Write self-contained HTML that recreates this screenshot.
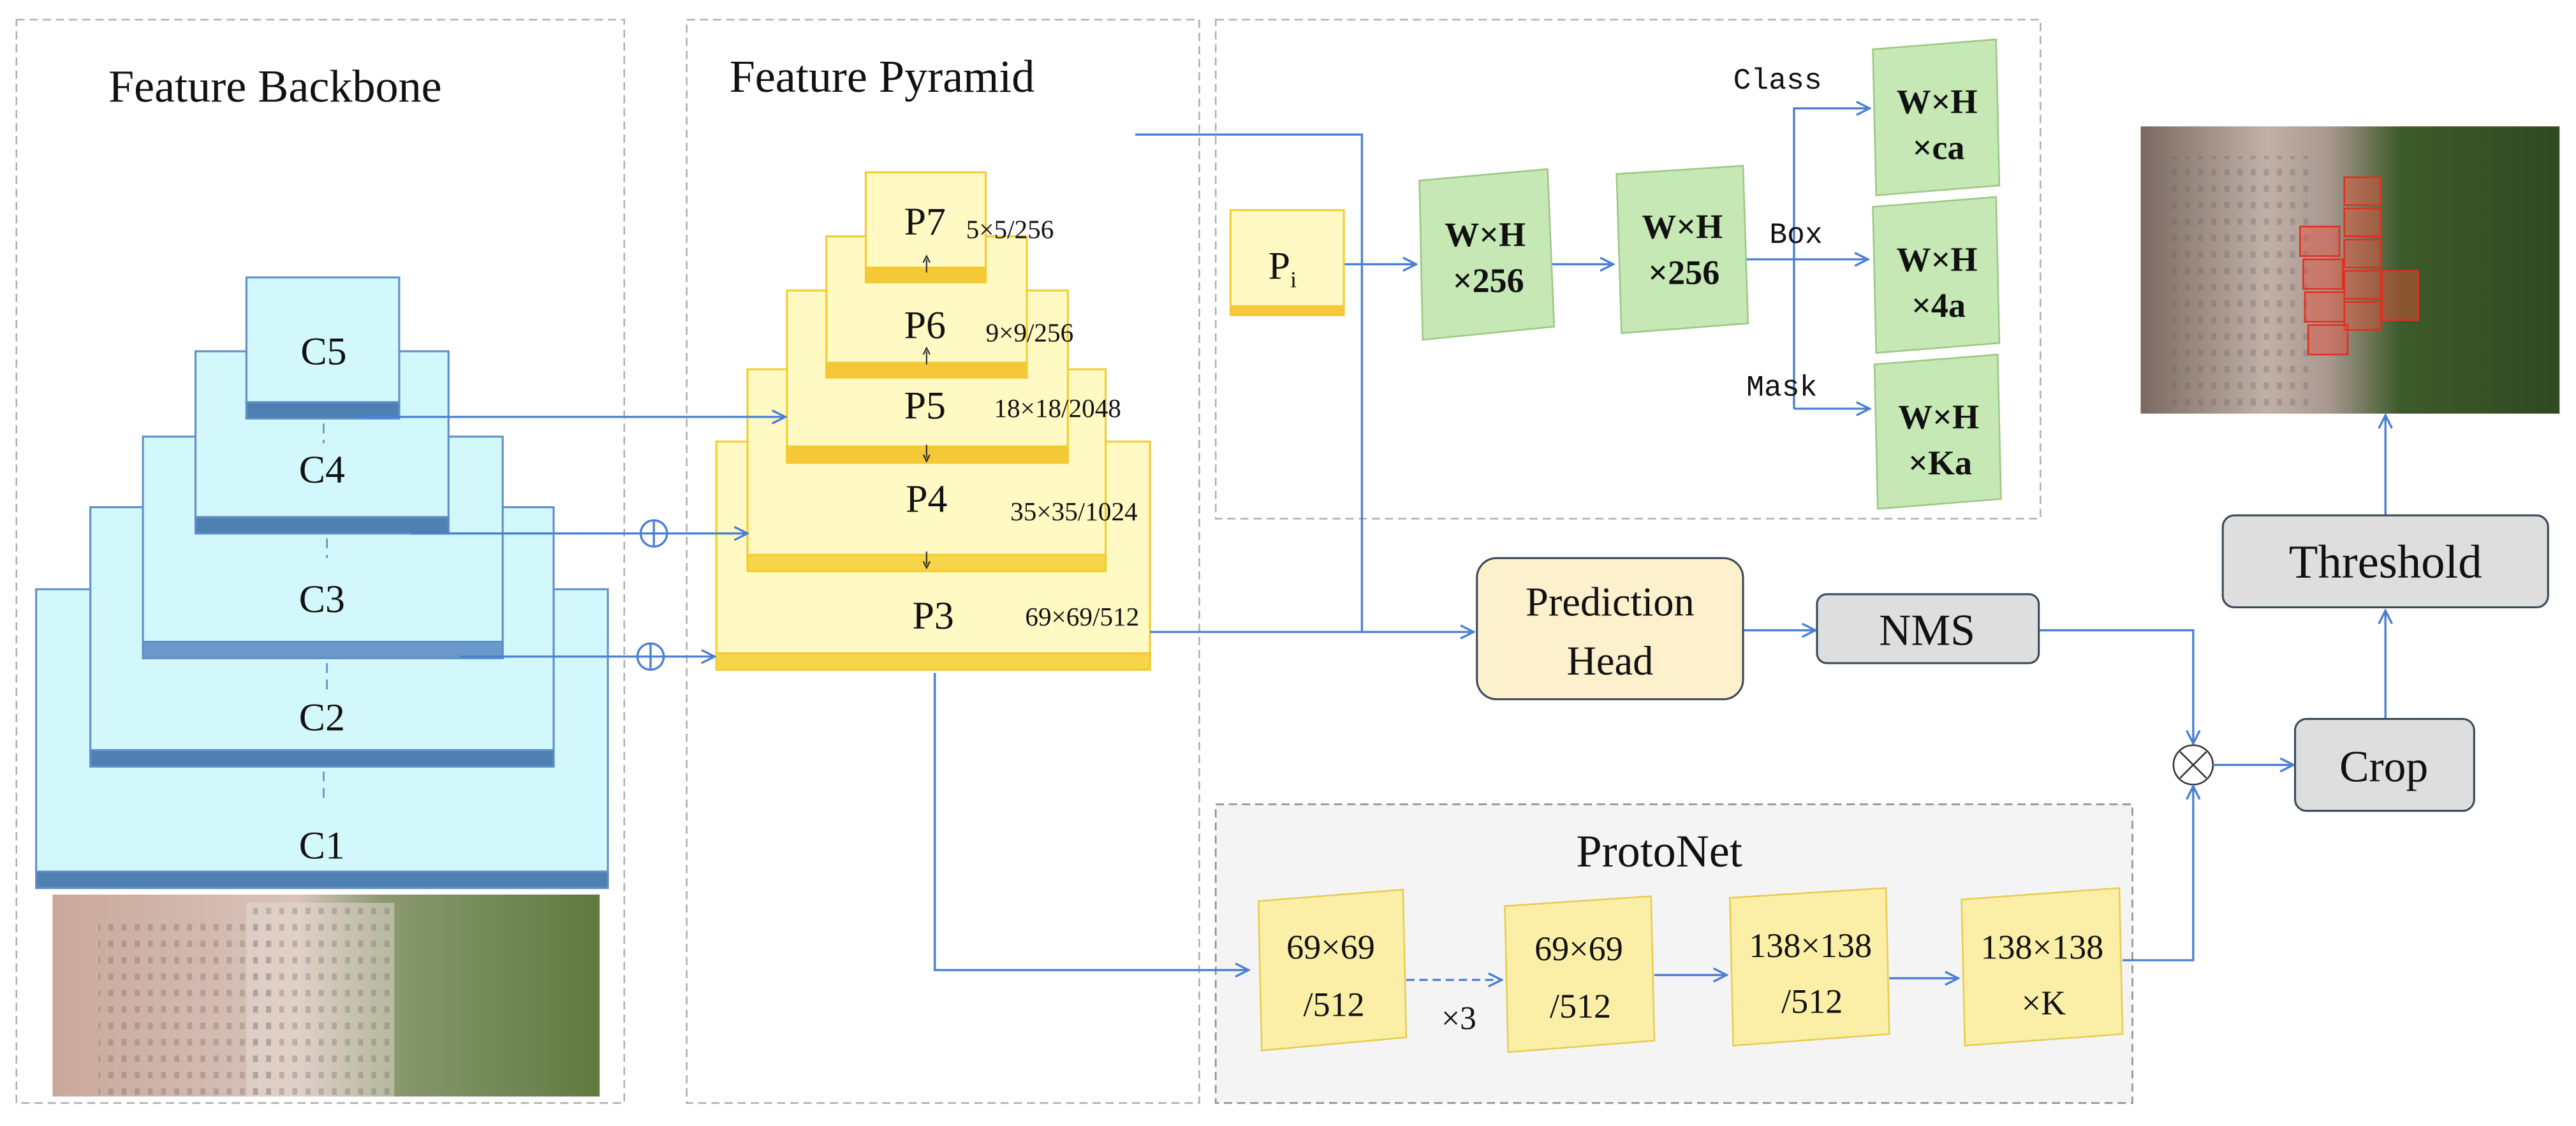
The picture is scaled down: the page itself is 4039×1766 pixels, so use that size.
<!DOCTYPE html>
<html><head><meta charset="utf-8"><style>
html,body{margin:0;padding:0;background:#fff;}
svg{display:block;}
text{font-family:"Liberation Serif",serif;fill:#111;}
.m{font-family:"Liberation Mono",monospace;}
</style></head><body>
<svg width="4039" height="1766" viewBox="0 0 1568 686" preserveAspectRatio="none" xmlns="http://www.w3.org/2000/svg">
<defs>
<marker id="a" markerWidth="10" markerHeight="10" refX="9" refY="5" orient="auto" markerUnits="userSpaceOnUse"><path d="M1,1 L9,5 L1,9" fill="none" stroke="#4a7fd4" stroke-width="1.3"/></marker>
<linearGradient id="ph1" x1="0" x2="1"><stop offset="0" stop-color="#c9a89a"/><stop offset="0.45" stop-color="#d8c4bc"/><stop offset="0.6" stop-color="#8a9a70"/><stop offset="1" stop-color="#5f7a40"/></linearGradient>
<linearGradient id="ph2" x1="0" x2="1"><stop offset="0" stop-color="#7a6a62"/><stop offset="0.3" stop-color="#c0b0a8"/><stop offset="0.45" stop-color="#a89890"/><stop offset="0.62" stop-color="#3d5a2a"/><stop offset="1" stop-color="#2f4a22"/></linearGradient>
<pattern id="win" width="8" height="10" patternUnits="userSpaceOnUse"><rect x="2" y="3" width="3" height="4" fill="#6a6060" opacity="0.3"/></pattern>
</defs>

<g fill="none" stroke="#b0b0b0" stroke-width="1" stroke-dasharray="5,3">
<rect x="10" y="12" width="370" height="660"/>
<rect x="418" y="12" width="312" height="660"/>
<rect x="740" y="12" width="502" height="304"/>
</g>
<rect x="740" y="490" width="558" height="182" fill="#f4f4f4" stroke="#909090" stroke-width="1" stroke-dasharray="5,3"/>

<text x="66" y="62" font-size="28">Feature Backbone</text>
<text x="444" y="56" font-size="28">Feature Pyramid</text>

<g stroke="#5f8fc8" stroke-width="1.2">
<rect x="22" y="359" width="348" height="182" fill="#d2f8fc"/>
<rect x="22" y="531" width="348" height="10" fill="#4f80b2"/>
<rect x="55" y="309" width="282" height="158" fill="#d2f8fc"/>
<rect x="55" y="457" width="282" height="10" fill="#4f80b2"/>
<rect x="87" y="266" width="219" height="135" fill="#d2f8fc"/>
<rect x="87" y="391" width="219" height="10" fill="#6a98c8"/>
<rect x="119" y="214" width="154" height="111" fill="#d2f8fc"/>
<rect x="119" y="315" width="154" height="10" fill="#4f80b2"/>
<rect x="150" y="169" width="93" height="86" fill="#d2f8fc"/>
<rect x="150" y="245" width="93" height="10" fill="#4f80b2"/>
</g>
<g stroke="#5f8fc8" stroke-dasharray="6,4"><line x1="197" y1="258" x2="197" y2="270"/><line x1="199" y1="328" x2="199" y2="340"/><line x1="199" y1="404" x2="199" y2="420"/><line x1="197" y1="470" x2="197" y2="490"/></g>
<g font-size="24" text-anchor="middle">
<text x="197" y="222">C5</text><text x="196" y="294">C4</text><text x="196" y="373">C3</text><text x="196" y="445">C2</text><text x="196" y="523">C1</text>
</g>
<rect x="32" y="545" width="333" height="123" fill="url(#ph1)"/>
<rect x="60" y="560" width="110" height="108" fill="url(#win)"/>
<rect x="150" y="550" width="90" height="118" fill="#e8dcd4" opacity="0.5"/>
<rect x="150" y="550" width="90" height="118" fill="url(#win)"/>

<g stroke="#f2cc30" stroke-width="1.2">
<rect x="436" y="269" width="264" height="139" fill="#fff9c4"/>
<rect x="436" y="398" width="264" height="10" fill="#f8d448"/>
<rect x="455" y="225" width="218" height="123" fill="#fff9c4"/>
<rect x="455" y="338" width="218" height="10" fill="#f8d448"/>
<rect x="479" y="177" width="171" height="105" fill="#fff9c4"/>
<rect x="479" y="272" width="171" height="10" fill="#f5c838"/>
<rect x="503" y="144" width="122" height="86" fill="#fff9c4"/>
<rect x="503" y="221" width="122" height="9" fill="#f5c838"/>
<rect x="527" y="105" width="73" height="67" fill="#fff9c4"/>
<rect x="527" y="163" width="73" height="9" fill="#f5c838"/>
</g>
<g font-size="24" text-anchor="middle">
<text x="563" y="143">P7</text><text x="563" y="206">P6</text><text x="563" y="255">P5</text><text x="564" y="312">P4</text><text x="568" y="383">P3</text>
</g>
<g font-size="16">
<text x="588" y="145">5×5/256</text><text x="600" y="208">9×9/256</text><text x="605" y="254">18×18/2048</text><text x="615" y="317">35×35/1024</text><text x="624" y="381">69×69/512</text>
</g>
<g stroke="#222" stroke-width="0.8">
<line x1="564" y1="158" x2="564" y2="166"/><path d="M562,160 L564,156 L566,160" fill="none"/>
<line x1="564" y1="214" x2="564" y2="222"/><path d="M562,216 L564,212 L566,216" fill="none"/>
<line x1="564" y1="271" x2="564" y2="279"/><path d="M562,277 L564,281 L566,277" fill="none"/>
<line x1="564" y1="336" x2="564" y2="344"/><path d="M562,342 L564,346 L566,342" fill="none"/>
</g>

<g fill="none" stroke="#4a7fd4" stroke-width="1.3">
<line x1="220" y1="254" x2="478" y2="254" marker-end="url(#a)"/>
<line x1="250" y1="325" x2="390" y2="325"/>
<line x1="406" y1="325" x2="455" y2="325" marker-end="url(#a)"/>
<circle cx="398" cy="325" r="8"/><line x1="390" y1="325" x2="406" y2="325"/><line x1="398" y1="317" x2="398" y2="333"/>
<line x1="280" y1="400" x2="388" y2="400"/>
<line x1="404" y1="400" x2="435" y2="400" marker-end="url(#a)"/>
<circle cx="396" cy="400" r="8"/><line x1="388" y1="400" x2="404" y2="400"/><line x1="396" y1="392" x2="396" y2="408"/>
<polyline points="691,82 829,82 829,385"/>
<line x1="700" y1="385" x2="897" y2="385" marker-end="url(#a)"/>
<polyline points="569,410 569,591 760,591" marker-end="url(#a)"/>
<line x1="818" y1="161" x2="862" y2="161" marker-end="url(#a)"/>
<line x1="944" y1="161" x2="982" y2="161" marker-end="url(#a)"/>
<line x1="1063" y1="158" x2="1137" y2="158" marker-end="url(#a)"/>
<polyline points="1092,249 1092,66 1138,66" marker-end="url(#a)"/>
<line x1="1092" y1="249" x2="1138" y2="249" marker-end="url(#a)"/>
<line x1="1061" y1="384" x2="1105" y2="384" marker-end="url(#a)"/>
<polyline points="1241,384 1335,384 1335,453" marker-end="url(#a)"/>
<circle cx="1335" cy="466" r="12" stroke="#333" stroke-width="1"/>
<line x1="1327" y1="458" x2="1343" y2="474" stroke="#333" stroke-width="1"/><line x1="1343" y1="458" x2="1327" y2="474" stroke="#333" stroke-width="1"/>
<line x1="1347" y1="466" x2="1396" y2="466" marker-end="url(#a)"/>
<line x1="1452" y1="438" x2="1452" y2="372" marker-end="url(#a)"/>
<line x1="1452" y1="314" x2="1452" y2="253" marker-end="url(#a)"/>
<polyline points="1292,585 1335,585 1335,479" marker-end="url(#a)"/>
<line x1="856" y1="597" x2="914" y2="597" stroke-dasharray="5,3" marker-end="url(#a)"/>
<line x1="1007" y1="594" x2="1051" y2="594" marker-end="url(#a)"/>
<line x1="1150" y1="596" x2="1192" y2="596" marker-end="url(#a)"/>
</g>

<rect x="749" y="128" width="69" height="64" fill="#fff9c4" stroke="#f2cc30" stroke-width="1.2"/>
<rect x="749" y="186" width="69" height="6" fill="#f5c838"/>
<text x="772" y="170" font-size="24">P<tspan font-size="14" dy="5">i</tspan></text>

<g fill="#c6e8b4" stroke="#9cc884" stroke-width="1">
<polygon points="864,110 942,103 946,199 866,207"/>
<polygon points="984,106 1061,101 1064,197 987,203"/>
<polygon points="1140,30 1215,24 1217,113 1142,119"/>
<polygon points="1140,126 1215,120 1217,209 1142,215"/>
<polygon points="1141,222 1216,216 1218,304 1143,310"/>
</g>
<g font-size="21" font-weight="bold" text-anchor="middle">
<text x="904" y="150">W×H</text><text x="906" y="178">×256</text>
<text x="1024" y="145">W×H</text><text x="1025" y="173">×256</text>
<text x="1179" y="69">W×H</text><text x="1180" y="97">×ca</text>
<text x="1179" y="165">W×H</text><text x="1180" y="193">×4a</text>
<text x="1180" y="261">W×H</text><text x="1181" y="289">×Ka</text>
</g>
<g font-size="18"><text class="m" x="1055" y="54">Class</text><text class="m" x="1077" y="148">Box</text><text class="m" x="1063" y="241">Mask</text></g>

<rect x="899" y="340" width="162" height="86" rx="12" fill="#fdf0cc" stroke="#3a4a5a" stroke-width="1.2"/>
<text x="980" y="375" font-size="25" text-anchor="middle">Prediction</text>
<text x="980" y="411" font-size="25" text-anchor="middle">Head</text>
<rect x="1106" y="362" width="135" height="42" rx="6" fill="#dedede" stroke="#3a4a5a" stroke-width="1.2"/>
<text x="1173" y="393" font-size="27" text-anchor="middle">NMS</text>
<rect x="1397" y="438" width="109" height="56" rx="7" fill="#dedede" stroke="#3a4a5a" stroke-width="1.2"/>
<text x="1451" y="476" font-size="27" text-anchor="middle">Crop</text>
<rect x="1353" y="314" width="198" height="56" rx="7" fill="#dedede" stroke="#3a4a5a" stroke-width="1.2"/>
<text x="1452" y="352" font-size="29" text-anchor="middle">Threshold</text>

<rect x="1303" y="77" width="255" height="175" fill="url(#ph2)"/>
<rect x="1320" y="95" width="90" height="157" fill="url(#win)"/>
<g fill="#e8503a" fill-opacity="0.45" stroke="#e03020" stroke-width="1">
<rect x="1427" y="108" width="22" height="17"/><rect x="1427" y="127" width="22" height="17"/><rect x="1427" y="146" width="22" height="17"/><rect x="1427" y="165" width="22" height="17"/><rect x="1427" y="184" width="22" height="17"/>
<rect x="1400" y="138" width="24" height="18"/><rect x="1402" y="158" width="24" height="18"/><rect x="1403" y="178" width="24" height="18"/><rect x="1405" y="198" width="24" height="18"/>
<rect x="1450" y="165" width="22" height="30"/>
</g>

<text x="1010" y="528" font-size="28" text-anchor="middle">ProtoNet</text>
<g fill="#fbefa8" stroke="#e8cc50" stroke-width="1">
<polygon points="766,549 854,542 856,632 768,640"/>
<polygon points="916,552 1005,546 1007,634 918,641"/>
<polygon points="1053,547 1148,541 1150,630 1055,637"/>
<polygon points="1194,548 1290,541 1292,630 1196,637"/>
</g>
<g font-size="21" text-anchor="middle">
<text x="810" y="584">69×69</text><text x="812" y="619">/512</text>
<text x="961" y="585">69×69</text><text x="962" y="620">/512</text>
<text x="1102" y="583">138×138</text><text x="1103" y="617">/512</text>
<text x="1243" y="584">138×138</text><text x="1244" y="618">×K</text>
</g>
<text x="888" y="627" font-size="20" text-anchor="middle">×3</text>
</svg>
</body></html>
